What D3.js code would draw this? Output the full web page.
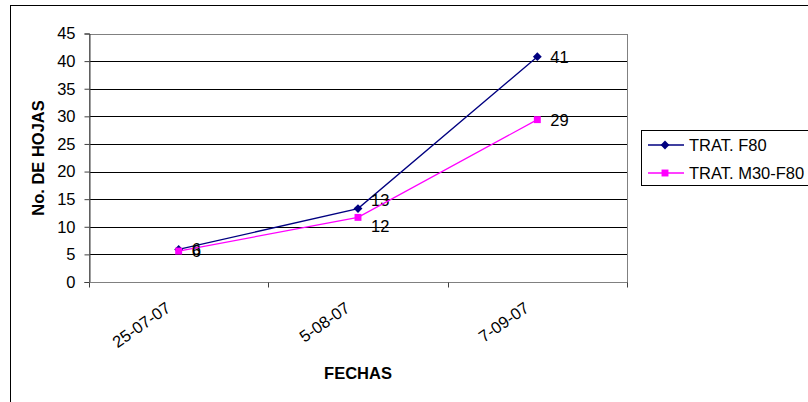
<!DOCTYPE html>
<html>
<head>
<meta charset="utf-8">
<script src="https://cdn.jsdelivr.net/npm/d3@7/dist/d3.min.js"></script>
<style>
  html, body { margin: 0; padding: 0; background: #fff; }
  svg { display: block; font-family: "Liberation Sans", Arial, sans-serif; }
</style>
</head>
<body>
<svg id="chart" width="808" height="402"></svg>
<script>
// Leaf counts per sampling date, two treatments
const fechas = ["25-07-07", "5-08-07", "7-09-07"];
const seriesNames = ["TRAT. F80", "TRAT. M30-F80"];
const valoresF80 = [5.9, 13.3, 40.8];
const valoresM30F80 = [5.6, 11.7, 29.4];
const yTicks = [0, 5, 10, 15, 20, 25, 30, 35, 40, 45];

const colors = ["#000080", "#FF00FF"];
const series = [
  { name: seriesNames[0], values: valoresF80, color: colors[0], symbol: d3.symbolDiamond2, size: 50 },
  { name: seriesNames[1], values: valoresM30F80, color: colors[1], symbol: d3.symbolSquare, size: 48 }
];

const svg = d3.select("#chart");

// chart area frame
svg.append("rect")
  .attr("x", 10.5).attr("y", 5.5)
  .attr("width", 820).attr("height", 420)
  .attr("fill", "#fff").attr("stroke", "#000").attr("stroke-width", 1);

const plot = { left: 89, right: 627, top: 33.5, bottom: 282 };

const x = d3.scaleBand().domain(fechas).range([plot.left, plot.right]);
const y = d3.scaleLinear().domain([0, 45]).range([plot.bottom, plot.top]);

// horizontal gridlines
svg.append("g").selectAll("line")
  .data(yTicks.filter(t => t > 0 && t < 45))
  .join("line")
  .attr("x1", plot.left).attr("x2", plot.right)
  .attr("y1", d => Math.round(y(d)) + 0.5).attr("y2", d => Math.round(y(d)) + 0.5)
  .attr("stroke", "#000").attr("stroke-width", 1);

// plot area border
svg.append("rect")
  .attr("x", plot.left + 0.5).attr("y", Math.round(plot.top) + 0.5)
  .attr("width", plot.right - plot.left).attr("height", Math.round(plot.bottom) - Math.round(plot.top))
  .attr("fill", "none").attr("stroke", "#808080").attr("stroke-width", 1);

// y axis
const yAxis = svg.append("g")
  .attr("transform", `translate(${plot.left + 0.5},0)`)
  .call(d3.axisLeft(y).tickValues(yTicks).tickSize(5).tickPadding(9));
yAxis.select(".domain").attr("stroke", "#404040");
yAxis.selectAll(".tick line").attr("stroke", "#404040");
yAxis.selectAll("text").attr("font-size", 16.5).attr("fill", "#000")
  .attr("font-family", "Liberation Sans, Arial, sans-serif");

// x axis: ticks at category boundaries
const xAxisG = svg.append("g").attr("transform", `translate(0,${Math.round(plot.bottom) + 0.5})`);
xAxisG.append("line")
  .attr("x1", plot.left).attr("x2", plot.right)
  .attr("stroke", "#808080");
const boundaries = fechas.map(f => x(f)).concat([x(fechas[fechas.length - 1]) + x.bandwidth()]);
xAxisG.selectAll("line.tk")
  .data(boundaries)
  .join("line").attr("class", "tk")
  .attr("x1", d => Math.round(d) + 0.5).attr("x2", d => Math.round(d) + 0.5)
  .attr("y1", 0).attr("y2", 5)
  .attr("stroke", "#404040");
xAxisG.selectAll("text")
  .data(fechas)
  .join("text")
  .attr("transform", d => `translate(${x(d) + x.bandwidth() / 2 - 7},${28}) rotate(-35)`)
  .attr("text-anchor", "end")
  .attr("font-size", 16.5)
  .text(d => d);

// axis titles
svg.append("text")
  .attr("transform", `translate(44,158) rotate(-90)`)
  .attr("text-anchor", "middle")
  .attr("font-size", 16.5).attr("font-weight", "bold")
  .text("No. DE HOJAS");

svg.append("text")
  .attr("x", 358).attr("y", 379)
  .attr("text-anchor", "middle")
  .attr("font-size", 16.5).attr("font-weight", "bold")
  .text("FECHAS");

// lines and markers
const line = d3.line()
  .x((d, i) => x(fechas[i]) + x.bandwidth() / 2)
  .y(d => y(d));

// vertical nudges for value labels that would collide at the middle date
const labelShift = [[0, 0, 0], [0, 0, 0]];
labelShift[0][1] = -8;
labelShift[1][1] = 9;

const fmt = d3.format(".0f");

series.forEach((s, si) => {
  svg.append("path")
    .datum(s.values)
    .attr("d", line)
    .attr("fill", "none")
    .attr("stroke", s.color)
    .attr("stroke-width", 1.3);

  svg.append("g").selectAll("path")
    .data(s.values)
    .join("path")
    .attr("transform", (d, i) => `translate(${x(fechas[i]) + x.bandwidth() / 2},${y(d)})`)
    .attr("d", d3.symbol().type(s.symbol).size(s.size))
    .attr("fill", s.color);

  svg.append("g").selectAll("text")
    .data(s.values)
    .join("text")
    .attr("x", (d, i) => x(fechas[i]) + x.bandwidth() / 2 + 13)
    .attr("y", (d, i) => y(d) + labelShift[si][i])
    .attr("dy", "0.36em")
    .attr("font-size", 16.5)
    .attr("fill", "#000")
    .text(d => fmt(d));
});

// legend
const legend = svg.append("g");
legend.append("rect")
  .attr("x", 641.5).attr("y", 130.5)
  .attr("width", 200).attr("height", 55)
  .attr("fill", "#fff").attr("stroke", "#000").attr("stroke-width", 1);

const rows = legend.selectAll("g.row")
  .data(series)
  .join("g").attr("class", "row")
  .attr("transform", (d, i) => `translate(0,${145 + i * 28})`);
rows.append("line")
  .attr("x1", 648).attr("x2", 684)
  .attr("stroke", d => d.color).attr("stroke-width", 1.3);
rows.append("path")
  .attr("transform", "translate(665,0)")
  .attr("d", d => d3.symbol().type(d.symbol).size(d.size)())
  .attr("fill", d => d.color);
rows.append("text")
  .attr("x", 689).attr("dy", "0.36em")
  .attr("font-size", 16.5)
  .text(d => d.name);
</script>
</body>
</html>
